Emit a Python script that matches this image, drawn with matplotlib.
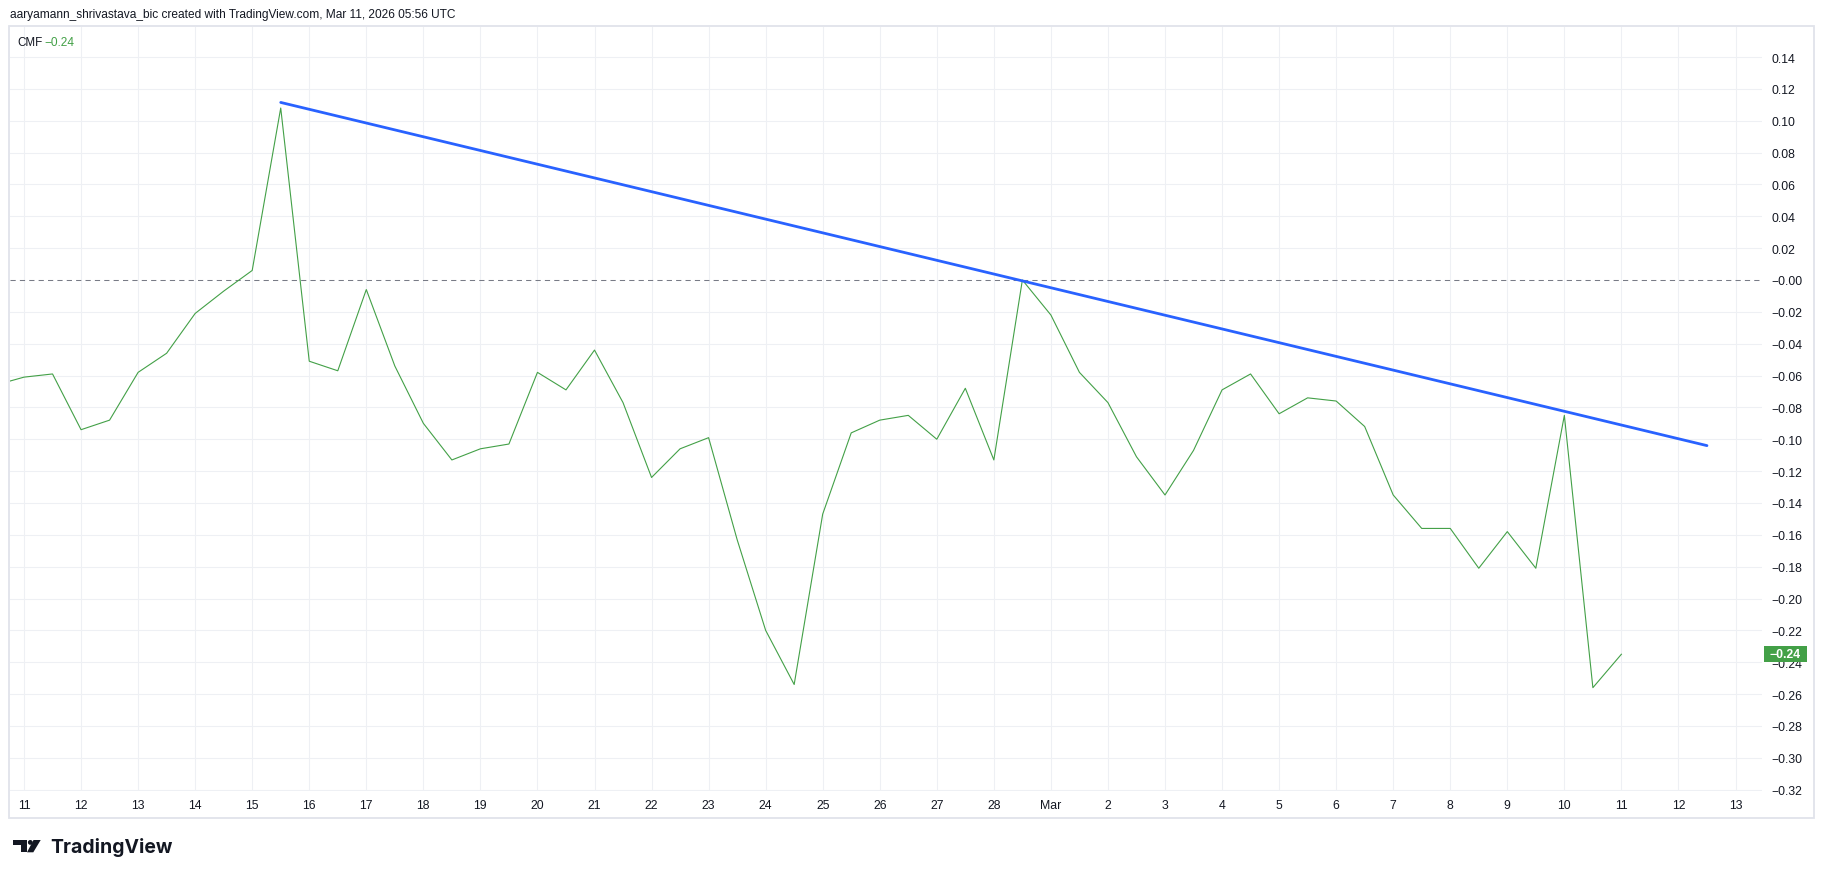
import numpy as np
import matplotlib
matplotlib.use("Agg")
import matplotlib.pyplot as plt
from matplotlib.patches import Rectangle, Circle, Polygon

# ---------------- data ----------------
# CMF values every half day, starting Feb 10 12:00 (offset -0.5 day from Feb 11)
cmf = [-0.066, -0.061, -0.059, -0.094, -0.088, -0.058, -0.046, -0.021, -0.007, 0.006,
       0.108, -0.051, -0.057, -0.006, -0.054, -0.090, -0.113, -0.106, -0.103, -0.058,
       -0.069, -0.044, -0.077, -0.124, -0.106, -0.099, -0.163, -0.220, -0.254, -0.147,
       -0.096, -0.088, -0.085, -0.100, -0.068, -0.113, 0.000, -0.022, -0.058, -0.077,
       -0.111, -0.135, -0.107, -0.069, -0.059, -0.084, -0.074, -0.076, -0.092, -0.135,
       -0.156, -0.156, -0.181, -0.158, -0.181, -0.085, -0.256, -0.235]
start_offset = -0.5   # days from Feb 11
step = 0.5            # half-day bars

# trend line endpoints (day offset from Feb 11, value)
trend_x = [4.5, 29.5]
trend_y = [0.1115, -0.1040]

# x tick labels (one per day, Feb 11 .. Mar 13)
xtick_labels = ['11', '12', '13', '14', '15', '16', '17', '18', '19', '20', '21', '22',
                '23', '24', '25', '26', '27', '28', 'Mar', '2', '3', '4', '5', '6', '7',
                '8', '9', '10', '11', '12', '13']
ytick_values = [0.14, 0.12, 0.10, 0.08, 0.06, 0.04, 0.02, 0.00, -0.02, -0.04, -0.06,
                -0.08, -0.10, -0.12, -0.14, -0.16, -0.18, -0.20, -0.22, -0.24, -0.26,
                -0.28, -0.30, -0.32]
last_value_label = '\u22120.24'
header = 'aaryamann_shrivastava_bic created with TradingView.com, Mar 11, 2026 05:56 UTC'

# ---------------- figure ----------------
W, H = 1825, 879
fig = plt.figure(figsize=(W / 100, H / 100), dpi=100)
fig.patch.set_facecolor('white')
plt.rcParams['font.family'] = ['Liberation Sans', 'DejaVu Sans']

def fx(px):
    return px / W

def fy(py):
    return 1 - py / H

ax = fig.add_axes([fx(10), fy(792), fx(1762) - fx(10), fy(28) - fy(792)])
ax.set_facecolor('none')

x = start_offset + step * np.arange(len(cmf))
grid_c = '#eef0f4'
for i in range(len(xtick_labels)):
    ax.axvline(i, color=grid_c, lw=0.8, zorder=0)
for v in ytick_values:
    if abs(v) > 1e-9:
        ax.axhline(v, color=grid_c, lw=0.8, zorder=0)
ax.axhline(0, color='#787b86', lw=0.75, linestyle=(0, (5, 4)), zorder=1)

ax.plot(x, cmf, color='#43a047', lw=0.8, zorder=3)
ax.plot(trend_x, trend_y, color='#2962ff', lw=2.0, solid_capstyle='round', zorder=4)

ax.set_xlim((10 - 24) / 57.05, (1762 - 24) / 57.05)
ax.set_ylim((281 - 792) / 31.85 * 0.02, (281 - 28) / 31.85 * 0.02)

ax.set_xticks(range(len(xtick_labels)))
ax.set_xticklabels(xtick_labels)
ax.set_yticks(ytick_values)

def fmt(v):
    s = '%.2f' % abs(v)
    return s if v > 0 else '\u2212' + s
ax.set_yticklabels([fmt(v) for v in ytick_values])
ax.yaxis.tick_right()
for lab in ax.get_yticklabels():
    lab.set_horizontalalignment('left')
ax.tick_params(axis='y', length=0, pad=6.5, labelsize=8.8, labelcolor='#131722')
ax.tick_params(axis='x', length=0, pad=5.5, labelsize=8.8, labelcolor='#131722')
for s in ax.spines.values():
    s.set_visible(False)

# ---------------- overlay (pixel coordinates) ----------------
ov = fig.add_axes([0, 0, 1, 1])
ov.set_xlim(0, W)
ov.set_ylim(H, 0)
ov.axis('off')
ov.set_facecolor('none')

border_c = '#e0e3eb'
ov.add_patch(Rectangle((9, 27), 1814 - 9, 819 - 27, fill=False, edgecolor=border_c, lw=1.3))

# last value box
ov.add_patch(Rectangle((1764, 647), 43, 16, facecolor='#43a047', edgecolor='none', zorder=5))
ov.text(1785.5, 655.5, last_value_label, color='white', fontsize=8.8, fontweight='bold',
        ha='center', va='center', zorder=6)

# header
ov.text(10, 15, header, color='#131722', fontsize=8.6, ha='left', va='center')

# legend
ov.text(17, 43, 'CMF', color='#131722', fontsize=8.4, ha='left', va='center')
ov.text(44, 43, last_value_label, color='#43a047', fontsize=8.6, ha='left', va='center')

# TradingView logo
k = '#131722'
ov.add_patch(Polygon([(12.7, 841), (26.7, 841), (26.7, 853.3), (20.7, 853.3),
                      (20.7, 845.7), (12.7, 845.7)], closed=True, facecolor=k, edgecolor='none'))
ov.add_patch(Circle((30.3, 843.4), 2.4, facecolor=k, edgecolor='none'))
ov.add_patch(Polygon([(33.5, 841), (40.7, 841), (33.3, 853.3), (27.0, 853.3)],
                     closed=True, facecolor=k, edgecolor='none'))
ov.text(50, 848, 'TradingView', color=k, fontsize=14, fontweight='bold',
        ha='left', va='center', family=['Inter', 'DejaVu Sans'])

fig.savefig('out.png', dpi=100, facecolor='white')
